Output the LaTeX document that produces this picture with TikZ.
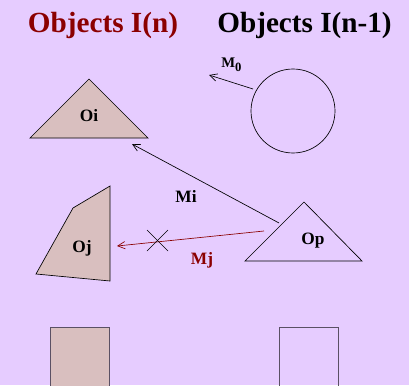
\documentclass[tikz,border=0pt]{standalone}
\usepackage{fontspec}
\setmainfont{Liberation Serif}
\usetikzlibrary{arrows.meta}
\definecolor{bg}{RGB}{230,204,255}
\definecolor{tan}{RGB}{217,191,191}
\definecolor{dred}{RGB}{139,0,0}
\definecolor{edge}{RGB}{90,80,100}
\tikzset{
  shp/.style={draw=black,line width=0.5pt},
  lbl/.style={font=\fontsize{13}{15}\selectfont\bfseries,inner sep=0pt},
  title/.style={font=\fontsize{21.9}{26}\selectfont\bfseries,inner sep=0pt,anchor=base},
  arr/.style={line width=0.5pt,-{Straight Barb[length=5.5pt,width=5.5pt]}}
}
\begin{document}
\begin{tikzpicture}[x=0.75pt,y=-0.75pt]
\fill[bg] (0,0) rectangle (409,385);
\useasboundingbox (0,0) rectangle (409,385);
% titles
\node[title,text=dred] (t1) at (103,33) {Objects I(n)};
\node[title] (t2) at (304.5,33) {Objects I(n-1)};
% Oi triangle
\draw[shp,fill=tan] (89,79) -- (148,138) -- (30,138) -- cycle;
\node[lbl] (oi) at (89,116) {Oi};
\coordinate (oitip) at (132,144);
% circle
\draw[shp] (293,111) circle (42);
\coordinate (cstart) at (253,89);
\coordinate (m0tip) at (209,75);
\draw[arr] (cstart) -- (m0tip);
\node[font=\fontsize{11}{13}\selectfont\bfseries,inner sep=0pt,anchor=base west] (m0) at (221,67) {M\raisebox{-3.5pt}{\fontsize{9.5}{11}\selectfont 0}};
% Op triangle
\draw[shp] (304,202) -- (362,261) -- (245,261) -- cycle;
\node[lbl] (op) at (313,241) {Op};
\coordinate (opA) at (279,223);
\coordinate (opB) at (264,231);
\draw[arr] (opA) -- (oitip);
\node[lbl] (mi) at (186,196) {Mi};
% Oj polygon
\draw[shp,fill=tan] (110,186) -- (73,208) -- (36,274) -- (110,281) -- cycle;
\node[lbl] (oj) at (82,248) {Oj};
\coordinate (ojtip) at (117,246);
\draw[arr,draw=dred] (opB) -- (ojtip);
\node[lbl,text=dred] (mj) at (202,260) {Mj};
% cross
\coordinate (x1) at (147,230);
\coordinate (x2) at (168,251);
\coordinate (x3) at (168,230);
\coordinate (x4) at (147,251);
\draw[shp] (x1) -- (x2);
\draw[shp] (x3) -- (x4);
% rectangles
\draw[draw=edge,line width=0.7pt,fill=tan] (50.5,327) rectangle (109.5,395);
\draw[draw=edge,line width=0.7pt] (279,327) rectangle (338,395);
\end{tikzpicture}
\end{document}
